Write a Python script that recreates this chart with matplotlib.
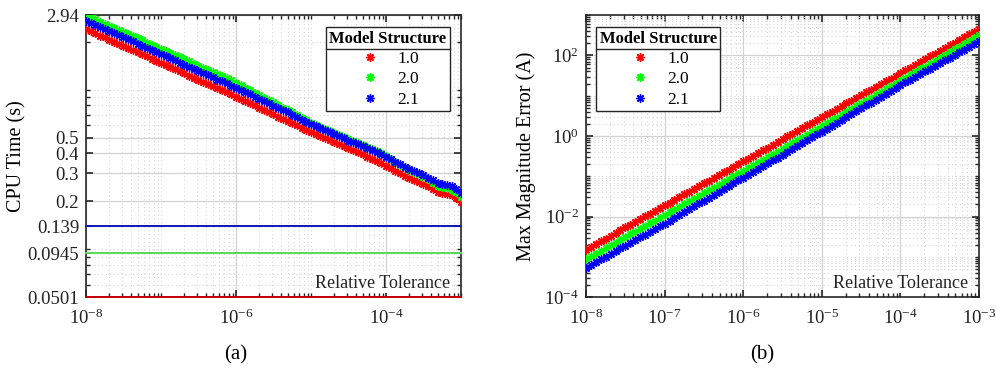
import numpy as np
import matplotlib
matplotlib.use('Agg')
import matplotlib.pyplot as plt
from matplotlib.ticker import LogLocator, NullFormatter, FixedLocator, FixedFormatter
from matplotlib.lines import Line2D

plt.rcParams['font.family'] = 'Liberation Serif'
plt.rcParams['mathtext.fontset'] = 'custom'
plt.rcParams['mathtext.rm'] = 'Liberation Serif'
plt.rcParams['mathtext.it'] = 'Liberation Serif:italic'

# relative tolerance sweep (16 points per decade)
tolerance = np.logspace(-8, -3, 81)

structures = ['1.0', '2.0', '2.1']
colors = ['#ff0000', '#00ff00', '#0000ff']

# CPU time (s)
cpu_10 = [2.40, 2.33, 2.26, 2.19, 2.13, 2.06, 2.00, 1.94, 1.88, 1.83,
          1.77, 1.72, 1.67, 1.62, 1.57, 1.52, 1.48, 1.43, 1.39, 1.35,
          1.31, 1.27, 1.23, 1.19, 1.16, 1.12, 1.09, 1.06, 1.03, 0.994,
          0.965, 0.936, 0.908, 0.879, 0.851, 0.824, 0.798, 0.773, 0.749, 0.725,
          0.702, 0.680, 0.658, 0.638, 0.618, 0.598, 0.579, 0.561, 0.543, 0.527,
          0.512, 0.497, 0.483, 0.469, 0.455, 0.442, 0.429, 0.417, 0.405, 0.393,
          0.381, 0.370, 0.360, 0.349, 0.335, 0.323, 0.311, 0.300, 0.290, 0.280,
          0.272, 0.265, 0.258, 0.248, 0.238, 0.229, 0.226, 0.223, 0.219, 0.211, 0.199]
cpu_20 = [2.94, 2.85, 2.77, 2.68, 2.60, 2.53, 2.45, 2.38, 2.31, 2.24,
          2.17, 2.11, 2.04, 1.98, 1.92, 1.86, 1.81, 1.75, 1.70, 1.65,
          1.60, 1.55, 1.51, 1.46, 1.42, 1.38, 1.33, 1.30, 1.26, 1.22,
          1.18, 1.15, 1.11, 1.07, 1.03, 0.997, 0.962, 0.928, 0.895, 0.863,
          0.833, 0.803, 0.774, 0.747, 0.721, 0.695, 0.670, 0.647, 0.623, 0.605,
          0.588, 0.571, 0.554, 0.538, 0.522, 0.507, 0.492, 0.479, 0.465, 0.451,
          0.437, 0.425, 0.413, 0.401, 0.385, 0.369, 0.354, 0.340, 0.327, 0.315,
          0.304, 0.295, 0.286, 0.274, 0.262, 0.251, 0.246, 0.242, 0.237, 0.227, 0.213]
cpu_21 = [2.72, 2.64, 2.56, 2.49, 2.41, 2.34, 2.27, 2.20, 2.14, 2.07,
          2.01, 1.95, 1.89, 1.84, 1.78, 1.73, 1.68, 1.63, 1.58, 1.53,
          1.48, 1.44, 1.40, 1.35, 1.31, 1.28, 1.24, 1.20, 1.16, 1.13,
          1.10, 1.06, 1.03, 0.998, 0.966, 0.935, 0.906, 0.877, 0.850, 0.823,
          0.797, 0.772, 0.747, 0.724, 0.693, 0.671, 0.650, 0.629, 0.609, 0.591,
          0.574, 0.558, 0.542, 0.526, 0.511, 0.496, 0.481, 0.471, 0.460, 0.446,
          0.432, 0.420, 0.409, 0.396, 0.380, 0.367, 0.353, 0.341, 0.329, 0.318,
          0.309, 0.301, 0.293, 0.281, 0.270, 0.260, 0.257, 0.253, 0.249, 0.239, 0.226]

# reference CPU times drawn as horizontal lines
cpu_ref = [0.0501, 0.0945, 0.139]
ref_colors = ['#c80000', '#55dd55', '#1414b4']

# max magnitude error (A)
err_10 = [1.51e-3, 1.77e-3, 2.08e-3, 2.43e-3, 2.84e-3, 3.33e-3, 3.90e-3, 4.57e-3, 5.35e-3, 6.26e-3,
          7.33e-3, 8.58e-3, 1.005e-2, 1.18e-2, 1.38e-2, 1.61e-2, 1.89e-2, 2.21e-2, 2.59e-2, 3.03e-2,
          3.55e-2, 4.16e-2, 4.86e-2, 5.70e-2, 6.67e-2, 7.81e-2, 9.14e-2, 0.107, 0.125, 0.147,
          0.172, 0.201, 0.236, 0.276, 0.323, 0.378, 0.443, 0.518, 0.607, 0.710,
          0.832, 0.974, 1.14, 1.34, 1.56, 1.83, 2.14, 2.51, 2.94, 3.44,
          4.03, 4.72, 5.52, 6.46, 7.57, 8.86, 10.4, 12.2, 14.2, 16.7,
          19.5, 22.8, 26.7, 31.3, 36.6, 42.9, 50.2, 58.8, 68.9, 80.6,
          94.4, 111, 129, 152, 177, 208, 243, 285, 333, 390, 457]
err_20 = [8.71e-4, 1.02e-3, 1.19e-3, 1.40e-3, 1.64e-3, 1.92e-3, 2.24e-3, 2.63e-3, 3.07e-3, 3.60e-3,
          4.21e-3, 4.93e-3, 5.78e-3, 6.76e-3, 7.92e-3, 9.28e-3, 1.09e-2, 1.27e-2, 1.49e-2, 1.74e-2,
          2.04e-2, 2.39e-2, 2.80e-2, 3.28e-2, 3.83e-2, 4.49e-2, 5.26e-2, 6.15e-2, 7.21e-2, 8.44e-2,
          9.88e-2, 0.116, 0.135, 0.159, 0.186, 0.217, 0.255, 0.298, 0.349, 0.409,
          0.478, 0.563, 0.662, 0.778, 0.916, 1.08, 1.27, 1.49, 1.75, 2.06,
          2.43, 2.85, 3.36, 3.95, 4.65, 5.47, 6.43, 7.56, 8.89, 10.5,
          12.3, 14.5, 17.0, 20.0, 23.6, 27.7, 32.6, 38.4, 45.1, 53.1,
          62.4, 73.4, 86.3, 102, 119, 141, 165, 194, 228, 269, 316]
err_21 = [5.38e-4, 6.29e-4, 7.37e-4, 8.62e-4, 1.01e-3, 1.18e-3, 1.38e-3, 1.62e-3, 1.90e-3, 2.22e-3,
          2.60e-3, 3.05e-3, 3.57e-3, 4.18e-3, 4.89e-3, 5.73e-3, 6.70e-3, 7.89e-3, 9.29e-3, 1.10e-2,
          1.29e-2, 1.52e-2, 1.80e-2, 2.11e-2, 2.49e-2, 2.94e-2, 3.46e-2, 4.08e-2, 4.80e-2, 5.66e-2,
          6.67e-2, 7.86e-2, 9.26e-2, 0.109, 0.129, 0.152, 0.179, 0.210, 0.248, 0.292,
          0.344, 0.406, 0.479, 0.563, 0.664, 0.783, 0.924, 1.09, 1.28, 1.51,
          1.79, 2.11, 2.50, 2.95, 3.48, 4.11, 4.86, 5.74, 6.77, 7.99,
          9.44, 11.1, 13.2, 15.6, 18.4, 21.5, 25.1, 29.4, 34.3, 40.2,
          46.9, 54.8, 64.2, 75.0, 87.6, 103, 120, 140, 164, 192, 224]

cpu_ticks = [0.0501, 0.0945, 0.139, 0.2, 0.3, 0.4, 0.5, 2.94]
cpu_tick_labels = ['0.0501', '0.0945', '0.139', '0.2', '0.3', '0.4', '0.5', '2.94']

AX_COLOR = '#262626'
MARKER = (8, 2, 0)   # asterisk like the MATLAB '*'


def style_axes(ax):
    ax.set_xscale('log')
    ax.set_yscale('log')
    for sp in ax.spines.values():
        sp.set_color(AX_COLOR)
        sp.set_linewidth(1.2)
    ax.tick_params(which='both', direction='in', top=True, right=True,
                   colors=AX_COLOR, labelcolor='#222222')
    ax.tick_params(which='major', length=5, width=1.2, labelsize=13.5)
    ax.tick_params(axis='x', which='major', pad=8)
    ax.tick_params(axis='y', which='major', pad=5)
    ax.tick_params(which='minor', length=3, width=1.0)
    ax.grid(True, which='major', color='#d2d2d2', linewidth=0.9)
    ax.grid(True, which='minor', color='#d8d8d8', linestyle=(0, (1, 2.5)), linewidth=0.8)
    ax.set_axisbelow(True)
    ax.xaxis.set_minor_locator(LogLocator(base=10, subs=np.arange(1, 10), numticks=100))
    ax.xaxis.set_minor_formatter(NullFormatter())
    ax.yaxis.set_minor_formatter(NullFormatter())
    ax.text(0.972, 0.05, 'Relative Tolerance', transform=ax.transAxes, ha='right',
            va='center', fontsize=13, color='#222222', zorder=5,
            bbox=dict(facecolor='white', edgecolor='none', pad=1))


def add_legend(ax, loc, anchor):
    leg = ax.legend(loc=loc, bbox_to_anchor=anchor, borderaxespad=0, fontsize=12.5,
                    title='Model Structure', title_fontproperties={'weight': 'bold', 'size': 12},
                    alignment='center', handlelength=1.5, handletextpad=0.8,
                    labelspacing=0.24, borderpad=0.2, fancybox=False, framealpha=1,
                    edgecolor=AX_COLOR)
    leg.get_frame().set_linewidth(1.0)
    return leg


fig = plt.figure(figsize=(9.96, 3.7), dpi=100)
ax1 = fig.add_axes([0.0863, 0.197, 0.3765, 0.762])
ax2 = fig.add_axes([0.5884, 0.197, 0.3946, 0.762])

# (a) CPU time
style_axes(ax1)
for val, c in zip(cpu_ref, ref_colors):
    ax1.axhline(val, color=c, linewidth=1.4, zorder=3, clip_on=False)
for ys, c, lab in zip([cpu_10, cpu_20, cpu_21], colors, structures):
    ax1.plot(tolerance, ys, linestyle='none', marker=MARKER, markersize=6,
             markeredgewidth=1.0, color=c, label=lab, zorder=4)
ax1.set_xlim(1e-8, 1e-3)
ax1.set_ylim(0.0501, 2.94)
ax1.xaxis.set_major_locator(FixedLocator([1e-8, 1e-6, 1e-4]))
ax1.yaxis.set_major_locator(FixedLocator(cpu_ticks))
ax1.yaxis.set_major_formatter(FixedFormatter(cpu_tick_labels))
ax1.yaxis.set_minor_locator(FixedLocator([0.06, 0.07, 0.08, 0.09, 0.1, 0.6, 0.7, 0.8, 0.9, 1, 2]))
ax1.set_ylabel('CPU Time (s)', fontsize=14.5, labelpad=1)
leg1 = add_legend(ax1, 'upper right', (0.971, 0.957))

# (b) max magnitude error
style_axes(ax2)
for ys, c, lab in zip([err_10, err_20, err_21], colors, structures):
    ax2.plot(tolerance, ys, linestyle='none', marker=MARKER, markersize=6,
             markeredgewidth=1.0, color=c, label=lab, zorder=4)
ax2.set_xlim(1e-8, 1e-3)
ax2.set_ylim(1e-4, 1e3)
ax2.xaxis.set_major_locator(LogLocator(base=10, numticks=20))
ax2.yaxis.set_major_locator(FixedLocator([1e-4, 1e-2, 1, 1e2]))
ax2.yaxis.set_minor_locator(LogLocator(base=10, subs=np.arange(1, 10), numticks=100))
ax2.set_ylabel('Max Magnitude Error (A)', fontsize=14.5, labelpad=6)
leg2 = add_legend(ax2, 'upper left', (0.0254, 0.957))

fig.text(0.237, 0.04, '(a)', ha='center', va='center', fontsize=15)
fig.text(0.765, 0.04, '(b)', ha='center', va='center', fontsize=15)

# separator line under the legend titles
fig.canvas.draw()
renderer = fig.canvas.get_renderer()
W, H = fig.bbox.width, fig.bbox.height
for leg in (leg1, leg2):
    fb = leg.get_frame().get_window_extent(renderer)
    tb = leg.get_title().get_window_extent(renderer)
    y = (tb.y0 - 2) / H
    fig.add_artist(Line2D([fb.x0 / W, fb.x1 / W], [y, y], transform=fig.transFigure,
                          color=AX_COLOR, linewidth=1.0))

fig.savefig('out.png', dpi=100)
